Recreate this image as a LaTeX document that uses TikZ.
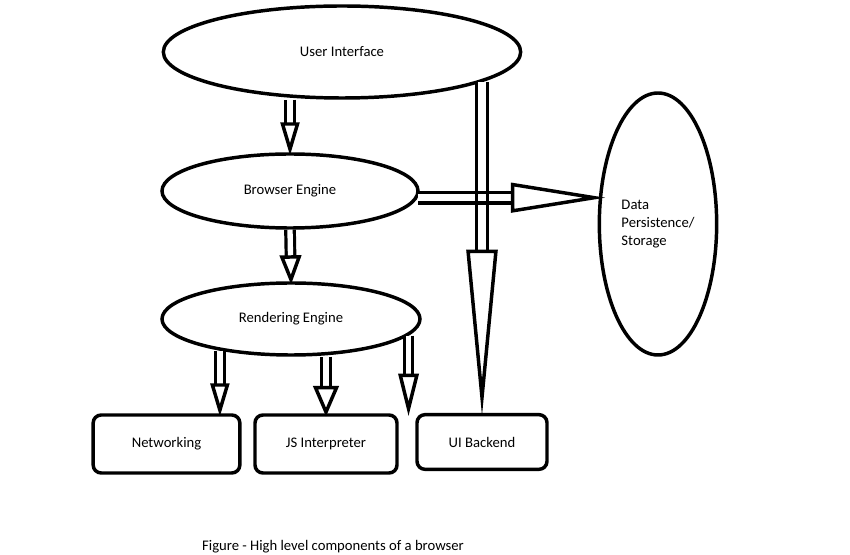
\documentclass[tikz,border=0pt]{standalone}
\usepackage{fontspec}
\setmainfont{Carlito}
\usetikzlibrary{arrows.meta, positioning, shapes.geometric}

\begin{document}
\begin{tikzpicture}[x=0.75pt, y=-0.75pt,
    every node/.style={font=\fontsize{11}{13.5}\selectfont},
    oval/.style={draw, ellipse, line width=2.6pt, inner sep=0pt},
    block/.style={draw, rounded corners=6pt, line width=2.6pt,
                  minimum height=43.5pt},
    hollow/.style 2 args={line width=2.4pt, double=white, double distance=4pt,
                  miter limit=60, shorten >=-2.5pt,
                  -{Triangle[open, line width'=2.6pt 0, length=#1, width=#2]}},
    bighollow/.style 2 args={line width=2.6pt, double=white, double distance=5.5pt,
                  miter limit=60, shorten >=-2.5pt,
                  -{Triangle[open, line width'=2.6pt 0, length=#1, width=#2]}}]
  \useasboundingbox (0,0) rectangle (850,555);

  % ellipses
  \node[oval, minimum width=268pt, minimum height=69pt] (ui) at (342,52) {User Interface};
  \node[oval, minimum width=192pt, minimum height=55.5pt] (be) at (290,191) {Browser Engine};
  \node[oval, minimum width=193.5pt, minimum height=54pt] (re) at (291,319) {Rendering Engine};
  \node[oval, minimum width=88pt, minimum height=196.5pt, align=left] (ds) at (658,224)
       {Data\\Persistence/\\Storage};

  % boxes
  \node[block, minimum width=110pt] (net) at (166.5,444) {Networking};
  \node[block, minimum width=106.5pt] (js) at (326,444) {JS Interpreter};
  \node[block, minimum width=97.5pt, minimum height=41pt] (uib) at (482,442) {UI Backend};

  % connectors
  \draw[hollow={25pt}{14pt}] (be.north |- ui.south) -- (be.north);
  \draw[bighollow={71pt}{22pt}, shorten >=-6pt] (be.-3) -- (be.-3 -| ds.west);
  \draw[bighollow={125pt}{23pt}] (uib.north |- ui.-12) -- (uib.north);
  \draw[hollow={22pt}{16pt}] (be.south) -- (re.north);
  \draw[hollow={25pt}{14pt}] (re.204) -- (re.204 |- net.north);
  \draw[hollow={23pt}{19pt}] (re.south -| js.north) -- (js.north);
  \draw[hollow={32pt}{15pt}] (re.-8) -- (re.-8 |- uib.north);

  % crossing: horizontal shaft lines show through the vertical one
  \coordinate (cross) at (be.-3 -| uib.north);
  \begin{scope}
    \clip ([shift={(-14,-14)}]cross) rectangle ([shift={(14,14)}]cross);
    \draw[line width=2.6pt] ([yshift=4.05pt]be.-3) -- ([yshift=4.05pt]be.-3 -| ds.west);
    \draw[line width=2.6pt] ([yshift=-4.05pt]be.-3) -- ([yshift=-4.05pt]be.-3 -| ds.west);
  \end{scope}

  \node (caption) at (333,547) {Figure - High level components of a browser};
\end{tikzpicture}
\end{document}
